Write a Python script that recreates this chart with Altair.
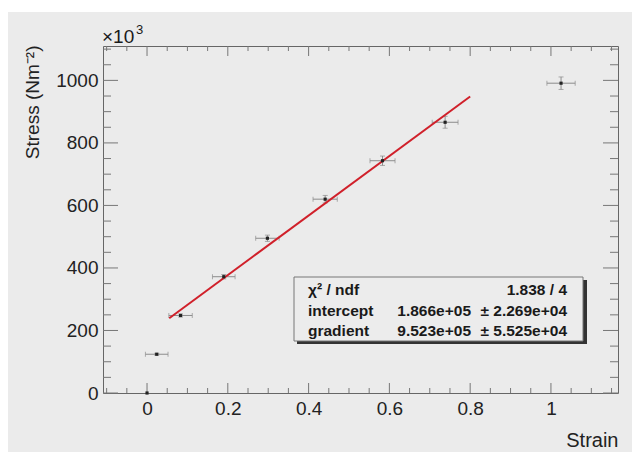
import altair as alt
import pandas as pd
import numpy as np

FONT = "Liberation Sans"

# ---- data ----
strain = [0.0, 0.024, 0.083, 0.19, 0.298, 0.441, 0.583, 0.738, 1.025]
strain_err = [0.0, 0.028, 0.029, 0.028, 0.029, 0.030, 0.031, 0.032, 0.035]
stress = [0, 124e3, 248e3, 372e3, 495e3, 620e3, 743e3, 866e3, 991e3]
stress_err = [0, 3e3, 5e3, 7e3, 10e3, 12e3, 15e3, 19e3, 20e3]

fit_intercept = 1.866e5
fit_gradient = 9.523e5
fit_range = [0.055, 0.8]

stat_labels = ["χ² / ndf", "intercept", "gradient"]
stat_values = ["1.838 / 4", "1.866e+05", "9.523e+05"]
stat_errors = ["", "± 2.269e+04", "± 5.525e+04"]

x_major = [0, 0.2, 0.4, 0.6, 0.8, 1.0]
x_minor = [round(v, 2) for v in np.arange(-0.10, 1.16, 0.05) if round(v, 2) not in x_major]
y_major = [0, 200e3, 400e3, 600e3, 800e3, 1000e3]
y_minor = [v for v in np.arange(0, 1100e3 + 1, 50e3) if v not in y_major]

df = pd.DataFrame({"strain": strain, "ex": strain_err, "stress": stress, "ey": stress_err})
fit_df = pd.DataFrame({"strain": fit_range,
                       "stress": [fit_intercept + fit_gradient * x for x in fit_range]})

W, H = 515, 347
PAD_L, PAD_T = 95, 38
TOTAL_W, TOTAL_H = 624, 444
xs = alt.Scale(domain=[-0.109, 1.166], nice=False, zero=False)
ys = alt.Scale(domain=[0, 1110e3], nice=False, zero=False)

x_axis = alt.Axis(values=x_major, format="~g", ticks=False, tickSize=0, domain=False, grid=False,
                  labelFontSize=19, labelPadding=6, labelColor="#222", labelFont=FONT,
                  labelFlush=False, labelOverlap=False,
                  title="Strain", titleX=W, titleY=53, titleAlign="right", titleBaseline="alphabetic",
                  titleFontSize=20, titleFontWeight="normal", titleFont=FONT, titleColor="#222")
y_axis = alt.Axis(values=y_major, labelExpr="format(datum.value/1000, 'd')", ticks=False, tickSize=0,
                  domain=False, grid=False, labelFontSize=19, labelPadding=5, labelColor="#222",
                  labelFont=FONT, labelOverlap=False,
                  title="Stress (Nm⁻²)", titleX=-65, titleY=-1, titleAngle=270, titleAlign="right",
                  titleBaseline="alphabetic", titleFontSize=19, titleFontWeight="normal",
                  titleFont=FONT, titleColor="#222")


def X(field):
    return alt.X(field, type="quantitative", scale=xs, axis=x_axis)


def Y(field):
    return alt.Y(field, type="quantitative", scale=ys, axis=y_axis)


# white strip on top of the page (the grey canvas starts a little lower)
strip = alt.Chart(pd.DataFrame({"a": [0]})).mark_rect(color="white").encode(
    x=alt.value(-PAD_L), x2=alt.value(TOTAL_W - PAD_L), y=alt.value(-PAD_T), y2=alt.value(-PAD_T + 4))

# inward ticks on all four sides
xmaj = pd.DataFrame({"v": x_major})
xmin = pd.DataFrame({"v": x_minor})
ymaj = pd.DataFrame({"v": y_major})
ymin = pd.DataFrame({"v": y_minor})
tick_color = "#777"
ticks = []
for d, ln in [(xmaj, 10), (xmin, 5)]:
    ticks.append(alt.Chart(d).mark_rule(color=tick_color, strokeWidth=1).encode(
        x=X("v"), y=alt.value(H), y2=alt.value(H - ln)))
    ticks.append(alt.Chart(d).mark_rule(color=tick_color, strokeWidth=1).encode(
        x=X("v"), y=alt.value(0), y2=alt.value(ln)))
for d, ln in [(ymaj, 15), (ymin, 8)]:
    ticks.append(alt.Chart(d).mark_rule(color=tick_color, strokeWidth=1).encode(
        y=Y("v"), x=alt.value(0), x2=alt.value(ln)))
    ticks.append(alt.Chart(d).mark_rule(color=tick_color, strokeWidth=1).encode(
        y=Y("v"), x=alt.value(W), x2=alt.value(W - ln)))

err_color = "#8c8c8c"
eb = alt.Chart(df).transform_filter("datum.ex > 0").transform_calculate(
    xlo="datum.strain - datum.ex", xhi="datum.strain + datum.ex",
    ylo="datum.stress - datum.ey", yhi="datum.stress + datum.ey")

hbar = eb.mark_rule(color=err_color, strokeWidth=1).encode(x=X("xlo"), x2="xhi:Q", y=Y("stress"))
hcap_l = eb.mark_tick(color=err_color, orient="vertical", size=5, thickness=1).encode(x=X("xlo"), y=Y("stress"))
hcap_r = eb.mark_tick(color=err_color, orient="vertical", size=5, thickness=1).encode(x=X("xhi"), y=Y("stress"))
vbar = eb.mark_rule(color=err_color, strokeWidth=1).encode(x=X("strain"), y=Y("ylo"), y2="yhi:Q")
vcap_l = eb.mark_tick(color=err_color, orient="horizontal", size=5, thickness=1).encode(x=X("strain"), y=Y("ylo"))
vcap_h = eb.mark_tick(color=err_color, orient="horizontal", size=5, thickness=1).encode(x=X("strain"), y=Y("yhi"))

pts = alt.Chart(df).mark_square(color="#222", size=10, opacity=1).encode(x=X("strain"), y=Y("stress"))

fit = alt.Chart(fit_df).mark_line(color="#d0202a", strokeWidth=2).encode(x=X("strain"), y=Y("stress"))

# stats box (pixel positions inside the plot area)
bx0, bx1, by0, by1 = 191, 480, 231, 295
shadow = alt.Chart(pd.DataFrame({"a": [0]})).mark_rect(color="#333").encode(
    x=alt.value(bx0 + 3), x2=alt.value(bx1 + 4), y=alt.value(by0 + 3), y2=alt.value(by1 + 3))
box = alt.Chart(pd.DataFrame({"a": [0]})).mark_rect(fill="#ececec", stroke="#777", strokeWidth=1).encode(
    x=alt.value(bx0), x2=alt.value(bx1), y=alt.value(by0), y2=alt.value(by1))


def txt(s, x, y, align="left", size=15.5, weight="bold", baseline="middle"):
    return alt.Chart(pd.DataFrame({"t": [s]})).mark_text(
        align=align, baseline=baseline, fontSize=size, fontWeight=weight, font=FONT,
        color="#1a1a1a").encode(x=alt.value(x), y=alt.value(y), text="t:N")


row_y = [244, 264.7, 285]
texts = []
for i in range(3):
    texts.append(txt(stat_labels[i], 205, row_y[i]))
    if stat_errors[i]:
        texts.append(txt(stat_values[i], 368, row_y[i], align="right"))
        texts.append(txt(stat_errors[i], 464, row_y[i], align="right"))
    else:
        texts.append(txt(stat_values[i], 464, row_y[i], align="right"))

mult = txt("×10", -1, -3.3, size=19, weight="normal", baseline="alphabetic")
mult3 = txt("3", 33, -12.5, size=13, weight="normal", baseline="alphabetic")

chart = alt.layer(
    strip, *ticks, hbar, hcap_l, hcap_r, vbar, vcap_l, vcap_h, fit, pts, shadow, box, *texts, mult, mult3
).properties(
    width=W, height=H,
    autosize=alt.AutoSizeParams(type="none"),
    padding={"left": PAD_L, "top": PAD_T, "right": TOTAL_W - PAD_L - W, "bottom": TOTAL_H - PAD_T - H},
    background="#ebebeb",
).configure_view(stroke="#666", strokeWidth=1)

chart.save("out.html", embed_options={"renderer": "svg", "actions": False})
